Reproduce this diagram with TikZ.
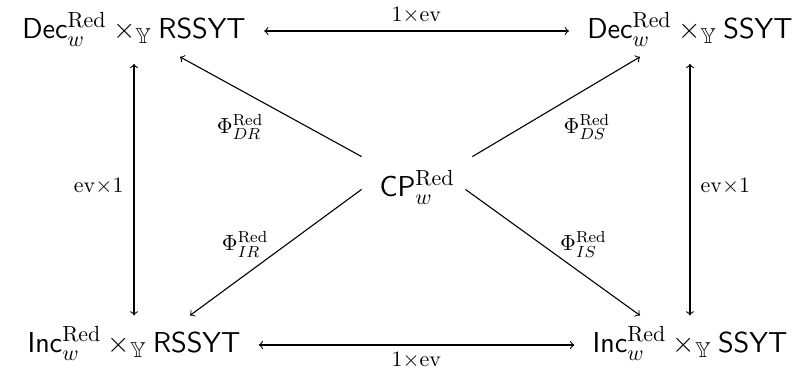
\documentclass[tikz,border=0pt]{standalone}
\usepackage{amssymb}
\tikzset{
	obj/.style={font=\fontsize{15.4}{18}\selectfont, inner xsep=9pt, inner ysep=5.2pt, anchor=base},
	hub/.style={font=\fontsize{15.4}{18}\selectfont, text height=6pt, text depth=6pt, inner sep=2pt, minimum width=55pt},
	lbl/.style={font=\fontsize{10.8}{13}\selectfont, inner sep=3.5pt},
	map/.style={line width=0.55pt}
}
\begin{document}
\begin{tikzpicture}
		\useasboundingbox (0,0) rectangle (14.164,-6.537);
		%corners
		\node[obj] (decr) at (2.355,-0.685) {$\mathsf{Dec}_w^{\mathrm{Red}}\times_{\mathbb{Y}}\mathsf{RSSYT}$};
		\node[obj] (decs) at (12.125,-0.685) {$\mathsf{Dec}_w^{\mathrm{Red}}\times_{\mathbb{Y}}\mathsf{SSYT}$};
		\node[obj] (incr) at (2.355,-6.203) {$\mathsf{Inc}_w^{\mathrm{Red}}\times_{\mathbb{Y}}\mathsf{RSSYT}$};
		\node[obj] (incs) at (12.125,-6.203) {$\mathsf{Inc}_w^{\mathrm{Red}}\times_{\mathbb{Y}}\mathsf{SSYT}$};
		%middle
		\node[hub] (cp) at (7.328,-3.04) {\raisebox{-12pt}[0pt][0pt]{$\mathsf{CP}_w^{\mathrm{Red}}$}};
		%horizontal
		\draw[map,<->] ([yshift=4pt]decr.base east) -- node[lbl,above]{$1{\times}\mathrm{ev}$} ([yshift=4pt]decs.base west);
		\draw[map,<->] ([yshift=4pt]incr.base east) -- node[lbl,below]{$1{\times}\mathrm{ev}$} ([yshift=4pt]incs.base west);
		%vertical
		\draw[map,<->,shorten <=3.5pt] (decr) -- node[lbl,left=1.5pt]{$\mathrm{ev}{\times}1$} (incr);
		\draw[map,<->,shorten <=3.5pt] (decs) -- node[lbl,right=1.5pt]{$\mathrm{ev}{\times}1$} (incs);
		%diagonals
		\draw[map,->] (cp.north west) -- node[lbl,below left]{$\Phi_{DR}^{\mathrm{Red}}$} ([xshift=23pt]decr.south);
		\draw[map,->] (cp.north east) -- node[lbl,below right]{$\Phi_{DS}^{\mathrm{Red}}$} ([xshift=-25pt]decs.south);
		\draw[map,->] (cp.south west) -- node[lbl,left,yshift=4pt]{$\Phi_{IR}^{\mathrm{Red}}$} ([xshift=28pt]incr.north);
		\draw[map,->] ([xshift=-3.5pt]cp.south east) -- node[lbl,right,yshift=4pt]{$\Phi_{IS}^{\mathrm{Red}}$} ([xshift=-25pt]incs.north);
\end{tikzpicture}
\end{document}
